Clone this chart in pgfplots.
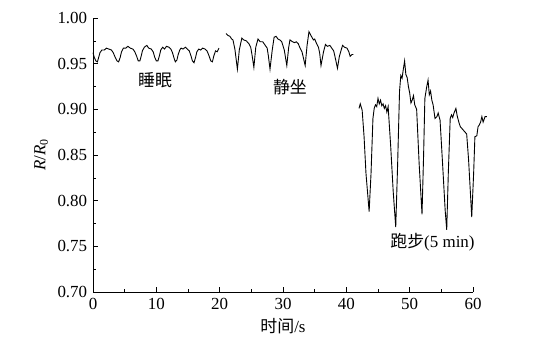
\documentclass[border=0pt]{standalone}
\usepackage{pgfplots}
\pgfplotsset{compat=1.18}
\usepackage{fontspec}
\setmainfont{Liberation Serif}
\newfontfamily\cjk{Noto Sans CJK SC}
\begin{document}
\fontsize{17}{20}\selectfont
\begin{tikzpicture}
\begin{axis}[
  scale only axis, width=380bp, height=274bp,
  xmin=0, xmax=60, ymin=0.70, ymax=1.00,
  axis x line*=bottom, axis y line*=left,
  clip=false,
  xtick={0,10,...,60}, ytick={0.70,0.75,...,1.001},
  minor tick num=1,
  tick align=inside,
  major tick length=5bp, minor tick length=3bp,
  every tick/.style={black, line width=0.6pt},
  axis line style={line width=0.6pt},
  /pgf/number format/assume math mode=true,
  yticklabel style={/pgf/number format/.cd, fixed, fixed zerofill, precision=2},
  tick label style={font=\fontsize{17}{20}\selectfont},
  xlabel={{\cjk 时间}/s},
  ylabel={\textit{R}/\textit{R}\textsubscript{0}},
  label style={font=\fontsize{17}{20}\selectfont},
  xlabel style={yshift=2bp},
  ylabel style={yshift=-2bp},
]
\addplot[black, line width=0.9pt] table {
0.0 0.962
0.2 0.957
0.45 0.953
0.7 0.952
0.9 0.957
1.1 0.962
1.4 0.965
1.8 0.965
2.1 0.967
2.5 0.966
2.9 0.965
3.2 0.962
3.5 0.957
3.8 0.953
4.05 0.952
4.3 0.957
4.5 0.963
4.8 0.967
5.2 0.967
5.5 0.969
5.9 0.967
6.3 0.966
6.6 0.963
6.9 0.958
7.15 0.953
7.4 0.953
7.6 0.958
7.8 0.964
8.1 0.968
8.5 0.970
8.8 0.967
9.2 0.966
9.5 0.963
9.75 0.957
10.0 0.953
10.25 0.953
10.5 0.959
10.7 0.965
11.0 0.968
11.3 0.966
11.6 0.969
12.0 0.968
12.3 0.966
12.55 0.962
12.8 0.956
13.0 0.952
13.25 0.954
13.45 0.960
13.7 0.965
13.9 0.967
14.2 0.966
14.6 0.968
14.9 0.966
15.2 0.964
15.45 0.959
15.7 0.953
15.95 0.951
16.2 0.957
16.4 0.963
16.7 0.966
17.0 0.965
17.3 0.967
17.7 0.966
18.0 0.964
18.3 0.959
18.6 0.953
18.85 0.952
19.1 0.959
19.35 0.964
19.6 0.963
19.9 0.967
};
\addplot[black, line width=0.9pt] table {
21.0 0.983
21.3 0.981
21.6 0.980
21.9 0.977
22.1 0.976
22.4 0.966
22.8 0.944
23.1 0.965
23.5 0.978
23.8 0.976
24.2 0.975
24.6 0.972
24.9 0.968
25.1 0.960
25.4 0.946
25.7 0.968
26.05 0.977
26.4 0.974
26.8 0.974
27.2 0.970
27.5 0.967
27.7 0.958
27.95 0.944
28.3 0.965
28.6 0.979
28.9 0.980
29.2 0.977
29.5 0.976
29.8 0.974
30.2 0.965
30.6 0.948
30.9 0.968
31.1 0.976
31.5 0.974
31.8 0.973
32.1 0.974
32.4 0.972
32.7 0.967
33.0 0.963
33.5 0.948
33.8 0.970
34.1 0.985
34.4 0.981
34.8 0.976
35.0 0.977
35.3 0.972
35.6 0.968
35.8 0.961
36.0 0.948
36.4 0.963
36.7 0.971
37.0 0.969
37.4 0.970
37.7 0.967
38.0 0.964
38.2 0.958
38.6 0.945
38.9 0.958
39.4 0.970
39.7 0.968
40.1 0.967
40.4 0.963
40.6 0.958
40.9 0.960
41.1 0.960
};
\addplot[black, line width=0.9pt] table {
42.0 0.901
42.2 0.906
42.5 0.899
42.8 0.870
43.1 0.830
43.6 0.788
43.9 0.830
44.2 0.890
44.4 0.901
44.6 0.905
44.8 0.903
45.0 0.912
45.2 0.906
45.4 0.910
45.6 0.904
45.8 0.906
46.0 0.901
46.2 0.904
46.4 0.897
46.6 0.903
47.0 0.860
47.4 0.810
47.8 0.771
48.1 0.840
48.4 0.920
48.6 0.937
48.8 0.934
49.0 0.944
49.2 0.953
49.4 0.938
49.6 0.935
49.8 0.925
50.0 0.918
50.2 0.907
50.4 0.910
50.6 0.915
50.8 0.905
51.1 0.900
51.5 0.840
51.95 0.785
52.2 0.850
52.4 0.912
52.7 0.925
52.9 0.932
53.1 0.916
53.3 0.920
53.5 0.910
53.7 0.905
54.0 0.890
54.3 0.892
54.5 0.896
54.8 0.888
55.2 0.840
55.6 0.790
55.85 0.768
56.1 0.830
56.4 0.890
56.6 0.894
56.8 0.891
57.0 0.896
57.3 0.901
57.5 0.893
57.8 0.885
58.0 0.881
58.5 0.877
59.0 0.873
59.3 0.845
59.8 0.782
60.1 0.830
60.3 0.870
60.6 0.871
60.8 0.881
61.0 0.883
61.2 0.886
61.4 0.892
61.6 0.886
61.9 0.892
62.2 0.892
};
\node[font=\cjk\fontsize{17}{20}\selectfont] at (axis cs:9.8,0.932) {睡眠};
\node[font=\cjk\fontsize{17}{20}\selectfont] at (axis cs:31.1,0.924) {静坐};
\node[font=\fontsize{17}{20}\selectfont] at (axis cs:53.6,0.754) {{\cjk 跑步}(5 min)};
\coordinate (ll) at (rel axis cs:0,0);
\coordinate (ur) at (rel axis cs:1,1);
\end{axis}
\pgfresetboundingbox
\path[use as bounding box] ([shift={(-93bp,-63bp)}]ll) rectangle ([shift={(74bp,18bp)}]ur);
\end{tikzpicture}
\end{document}
